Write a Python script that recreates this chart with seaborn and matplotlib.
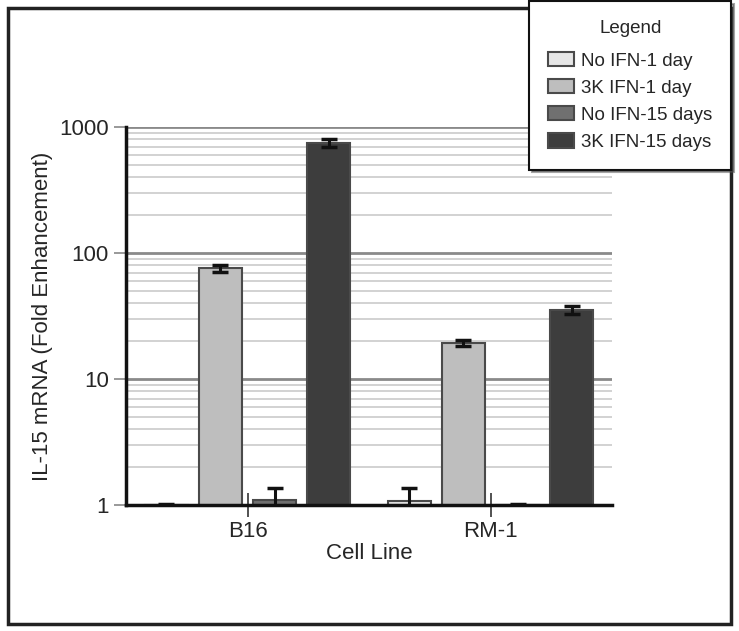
import matplotlib
matplotlib.use('Agg')
import matplotlib.pyplot as plt
from matplotlib.patches import Rectangle, Patch
from matplotlib.ticker import FixedLocator, NullFormatter
import numpy as np
import pandas as pd
import seaborn as sns

cell_lines = ["B16", "RM-1"]
conditions = ["No IFN-1 day", "3K IFN-1 day", "No IFN-15 days", "3K IFN-15 days"]
b16_vals = [1.0, 76, 1.1, 750]
b16_err = [0.02, 5, 0.26, 50]
rm1_vals = [1.08, 19.4, 1.0, 35.3]
rm1_err = [0.29, 1.0, 0.02, 2.7]
bar_colors = ["#e6e6e6", "#bebebe", "#707070", "#3d3d3d"]
ytick_vals = [1, 10, 100, 1000]

sns.set_style('white')
plt.rcParams['font.family'] = ['Liberation Sans', 'DejaVu Sans']

df = pd.DataFrame({
    "Cell Line": ["B16"] * 4 + ["RM-1"] * 4,
    "Condition": conditions * 2,
    "Fold": b16_vals + rm1_vals,
    "Err": b16_err + rm1_err,
})

fig = plt.figure(figsize=(7.39, 6.31), dpi=100)
ax = fig.add_axes([126 / 739, 1 - 505 / 631, (612 - 126) / 739, (505 - 127) / 631])

sns.barplot(data=df, x="Cell Line", y="Fold", hue="Condition", order=cell_lines,
            hue_order=conditions, palette=bar_colors, width=0.89, gap=0.2,
            edgecolor="#4a4a4a", linewidth=1.5, legend=False, errorbar=None,
            ax=ax, zorder=3)
ax.set_yscale('log')
ax.set_ylim(1, 1000)
ax.set_xlim(-0.5, 1.5)

# error bars on top of the seaborn bars
bar_groups = list(ax.containers)
for cond, cont in zip(conditions, bar_groups):
    sub = df[df["Condition"] == cond].set_index("Cell Line").loc[cell_lines]
    xs = [p.get_x() + p.get_width() / 2 for p in cont.patches]
    ax.errorbar(xs, sub["Fold"].values, yerr=sub["Err"].values, fmt='none',
                ecolor='#111111', elinewidth=2.2, capsize=5.5, capthick=2.5, zorder=4)

ax.set_yticks(ytick_vals, [str(v) for v in ytick_vals])
minors = [m * 10 ** d for d in range(0, 3) for m in range(2, 10)]
ax.yaxis.set_minor_locator(FixedLocator(minors))
ax.yaxis.set_minor_formatter(NullFormatter())
ax.set_axisbelow(True)
ax.yaxis.grid(True, which='major', color='#8a8a8a', lw=2)
ax.yaxis.grid(True, which='minor', color='#d2d2d2', lw=1.4)
ax.xaxis.grid(False)

ax.tick_params(axis='y', which='major', left=True, length=8.5, width=1.2, color='#888888',
               labelsize=16, pad=4)
ax.tick_params(axis='y', which='minor', length=0)
ax.tick_params(axis='x', which='major', bottom=True, direction='inout', length=17, width=1.2,
               color='#333333', labelsize=16, pad=3)

for s in ['top', 'right']:
    ax.spines[s].set_visible(False)
for s in ['left', 'bottom']:
    ax.spines[s].set_color('#111111')
    ax.spines[s].set_linewidth(2.5)
    ax.spines[s].set_zorder(5)

ax.set_xlabel("Cell Line", fontsize=16, labelpad=1)
ax.set_ylabel("IL-15 mRNA (Fold Enhancement)", fontsize=16)
ax.yaxis.set_label_coords(-0.15, 0.5)

# outer frame
fig.patches.append(Rectangle((8 / 739, 1 - 624 / 631), (731 - 8) / 739, (624 - 8) / 631,
                             transform=fig.transFigure, fill=False, edgecolor='#222222',
                             lw=2.5, zorder=1))

handles = [Patch(facecolor=c, edgecolor='#4a4a4a', lw=1.5) for c in bar_colors]
leg = fig.legend(handles, conditions, title="Legend", loc='upper right',
                 bbox_to_anchor=(731 / 739, 1 - 1 / 631), bbox_transform=fig.transFigure,
                 borderaxespad=0, fontsize=13.5, title_fontsize=13.5, fancybox=False,
                 shadow=True, framealpha=1, edgecolor='#111111', handlelength=1.4,
                 handleheight=0.8, handletextpad=0.35, labelspacing=0.5, borderpad=1.0)
leg.get_frame().set_linewidth(1.5)
leg._legend_box.sep = 11

fig.savefig('out.png', dpi=100)
